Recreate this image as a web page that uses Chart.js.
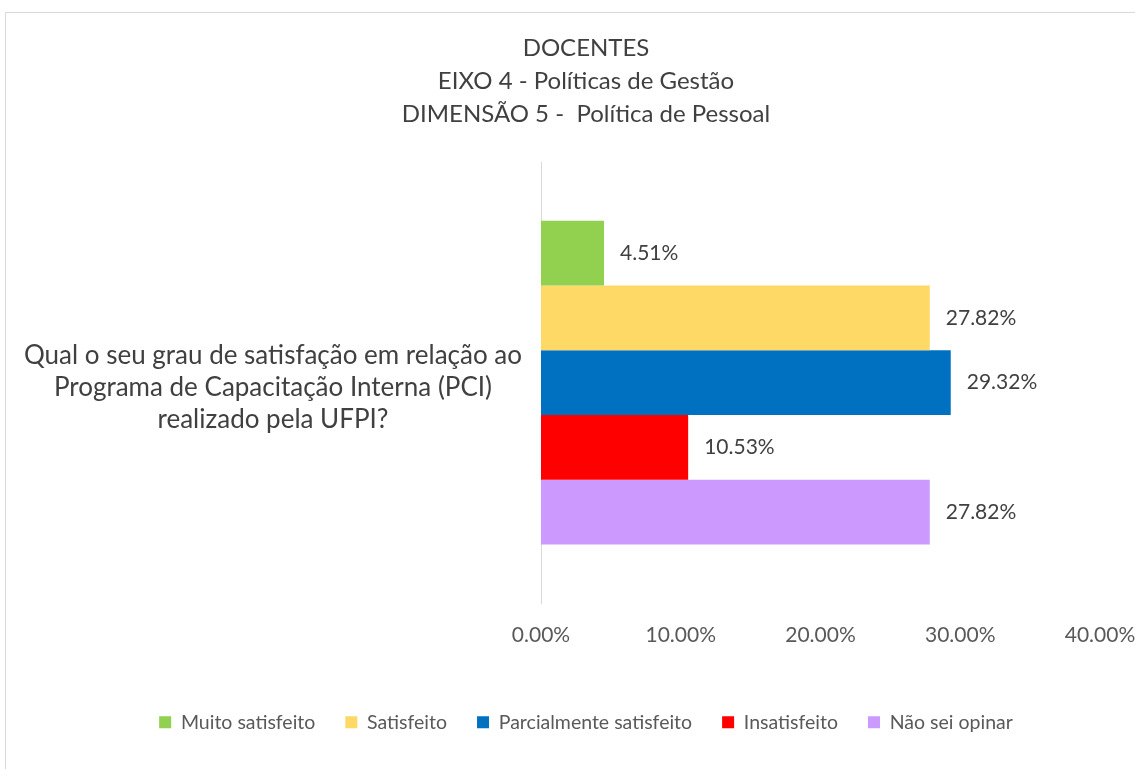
<!DOCTYPE html>
<html>
<head>
    <title>Docentes - Eixo 4</title>
    <script src="https://cdn.jsdelivr.net/npm/chart.js"></script>
    <style>
        html, body {
            margin: 0;
            padding: 0;
            background: #fff;
            overflow: hidden;
        }
        .frame {
            position: absolute;
            left: 5px;
            top: 12px;
            width: 1200px;
            height: 800px;
            border: 1px solid #d9d9d9;
        }
        .chart-box {
            position: absolute;
            left: 0;
            top: 0;
            width: 1135px;
            height: 769px;
        }
    </style>
</head>
<body>
    <div class="frame"></div>
    <div class="chart-box">
        <canvas id="pciChart"></canvas>
    </div>

    <script>
        const titleLines = ['DOCENTES', 'EIXO 4 - Políticas de Gestão', 'DIMENSÃO 5 -  Política de Pessoal'];
        const questionLabel = [['Qual o seu grau de satisfação em relação ao', 'Programa de Capacitação Interna (PCI)', 'realizado pela UFPI?']];
        const seriesNames = ['Muito satisfeito', 'Satisfeito', 'Parcialmente satisfeito', 'Insatisfeito', 'Não sei opinar'];
        const seriesValues = [4.51, 27.82, 29.32, 10.53, 27.82];
        const seriesColors = ['#92D050', '#FFD966', '#0070C0', '#FF0000', '#CC99FF'];
        const tickValues = [0, 10, 20, 30, 40];

        const fontFamily = 'Lato, "Open Sans", sans-serif';

        // draws the percentage next to each bar
        const barLabels = {
            id: 'barLabels',
            afterDatasetsDraw(chart) {
                const ctx = chart.ctx;
                ctx.save();
                ctx.font = '21px ' + fontFamily;
                ctx.fillStyle = '#404040';
                ctx.textAlign = 'left';
                ctx.textBaseline = 'middle';
                chart.data.datasets.forEach((ds, i) => {
                    const meta = chart.getDatasetMeta(i);
                    meta.data.forEach((bar, j) => {
                        ctx.fillText(ds.data[j].toFixed(2) + '%', bar.x + 16, bar.y);
                    });
                });
                ctx.restore();
            }
        };

        const datasets = seriesNames.map((name, i) => ({
            label: name,
            data: [seriesValues[i]],
            backgroundColor: seriesColors[i],
            borderWidth: 0,
            barPercentage: 1,
            categoryPercentage: 0.734
        }));

        const chart = new Chart(document.getElementById('pciChart').getContext('2d'), {
            type: 'bar',
            data: {
                labels: questionLabel,
                datasets: datasets
            },
            plugins: [barLabels],
            options: {
                indexAxis: 'y',
                responsive: true,
                maintainAspectRatio: false,
                animation: false,
                layout: {
                    // negative right padding only nudges the centred legend to the right
                    padding: { top: 18, left: 12, right: -25, bottom: 27 }
                },
                scales: {
                    x: {
                        min: tickValues[0],
                        max: tickValues[tickValues.length - 1],
                        afterBuildTicks: axis => {
                            axis.ticks = tickValues.map(v => ({ value: v }));
                        },
                        afterFit: axis => {
                            axis.height += 16;
                            axis.paddingRight = 35;
                        },
                        grid: { display: false, drawTicks: false },
                        border: { display: false },
                        ticks: {
                            padding: 19,
                            color: '#595959',
                            font: { family: fontFamily, size: 21 },
                            callback: value => `${value.toFixed(2)}%`
                        }
                    },
                    y: {
                        afterFit: axis => {
                            axis.width = 541 - 12;
                        },
                        grid: { display: false, drawTicks: false },
                        border: { display: true, color: '#d9d9d9', width: 1 },
                        ticks: {
                            padding: 19,
                            crossAlign: 'center',
                            labelOffset: 5,
                            color: '#404040',
                            font: { family: fontFamily, size: 26, lineHeight: 1.23 }
                        }
                    }
                },
                plugins: {
                    title: {
                        display: true,
                        text: titleLines,
                        color: '#404040',
                        font: { family: fontFamily, size: 24, weight: 'normal', lineHeight: 1.375 },
                        padding: { top: 14, bottom: 31 }
                    },
                    legend: {
                        display: true,
                        position: 'bottom',
                        labels: {
                            boxWidth: 12,
                            boxHeight: 12,
                            padding: 30,
                            color: '#595959',
                            font: { family: fontFamily, size: 19.5 }
                        }
                    },
                    tooltip: { enabled: false }
                }
            }
        });
    </script>
</body>
</html>
